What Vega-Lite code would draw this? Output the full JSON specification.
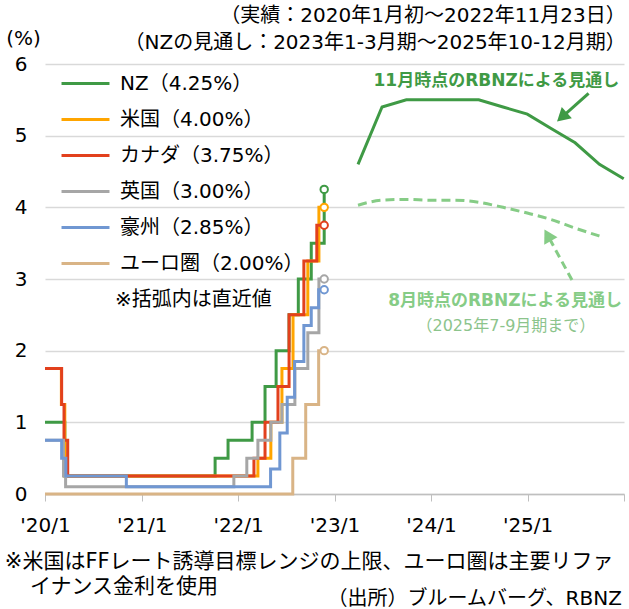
{
  "$schema": "https://vega.github.io/schema/vega-lite/v6.json",
  "width": 579,
  "height": 430,
  "autosize": {"type": "none"},
  "padding": {"left": 45, "top": 64, "right": 5, "bottom": 115},
  "background": "white",
  "config": {"font": "DejaVu Sans, Noto Sans CJK JP", "view": {"stroke": null}},
  "title": {
    "text": ["（実績：2020年1月初～2022年11月23日）", "（NZの見通し：2023年1-3月期～2025年10-12月期）"],
    "anchor": "end",
    "fontSize": 20,
    "fontWeight": "normal",
    "lineHeight": 27,
    "offset": 8,
    "dy": 33,
    "dx": -4,
    "color": "#000000"
  },
  "datasets": {
    "actual": [
      {"s": "ユーロ圏（2.00%）", "d": "2020-01-01", "v": 0.0},
      {"s": "ユーロ圏（2.00%）", "d": "2022-07-27", "v": 0.5},
      {"s": "ユーロ圏（2.00%）", "d": "2022-09-14", "v": 1.25},
      {"s": "ユーロ圏（2.00%）", "d": "2022-11-02", "v": 2.0},
      {"s": "ユーロ圏（2.00%）", "d": "2022-11-23", "v": 2.0},
      {"s": "英国（3.00%）", "d": "2020-01-01", "v": 0.75},
      {"s": "英国（3.00%）", "d": "2020-03-11", "v": 0.25},
      {"s": "英国（3.00%）", "d": "2020-03-19", "v": 0.1},
      {"s": "英国（3.00%）", "d": "2021-12-16", "v": 0.25},
      {"s": "英国（3.00%）", "d": "2022-02-03", "v": 0.5},
      {"s": "英国（3.00%）", "d": "2022-03-17", "v": 0.75},
      {"s": "英国（3.00%）", "d": "2022-05-05", "v": 1.0},
      {"s": "英国（3.00%）", "d": "2022-06-16", "v": 1.25},
      {"s": "英国（3.00%）", "d": "2022-08-04", "v": 1.75},
      {"s": "英国（3.00%）", "d": "2022-09-22", "v": 2.25},
      {"s": "英国（3.00%）", "d": "2022-11-03", "v": 3.0},
      {"s": "英国（3.00%）", "d": "2022-11-23", "v": 3.0},
      {"s": "NZ（4.25%）", "d": "2020-01-01", "v": 1.0},
      {"s": "NZ（4.25%）", "d": "2020-03-16", "v": 0.25},
      {"s": "NZ（4.25%）", "d": "2021-10-06", "v": 0.5},
      {"s": "NZ（4.25%）", "d": "2021-11-24", "v": 0.75},
      {"s": "NZ（4.25%）", "d": "2022-02-23", "v": 1.0},
      {"s": "NZ（4.25%）", "d": "2022-04-13", "v": 1.5},
      {"s": "NZ（4.25%）", "d": "2022-05-25", "v": 2.0},
      {"s": "NZ（4.25%）", "d": "2022-07-13", "v": 2.5},
      {"s": "NZ（4.25%）", "d": "2022-08-17", "v": 3.0},
      {"s": "NZ（4.25%）", "d": "2022-10-05", "v": 3.5},
      {"s": "NZ（4.25%）", "d": "2022-11-23", "v": 4.25},
      {"s": "米国（4.00%）", "d": "2020-01-01", "v": 1.75},
      {"s": "米国（4.00%）", "d": "2020-03-03", "v": 1.25},
      {"s": "米国（4.00%）", "d": "2020-03-16", "v": 0.25},
      {"s": "米国（4.00%）", "d": "2022-03-17", "v": 0.5},
      {"s": "米国（4.00%）", "d": "2022-05-05", "v": 1.0},
      {"s": "米国（4.00%）", "d": "2022-06-16", "v": 1.75},
      {"s": "米国（4.00%）", "d": "2022-07-28", "v": 2.5},
      {"s": "米国（4.00%）", "d": "2022-09-22", "v": 3.25},
      {"s": "米国（4.00%）", "d": "2022-11-03", "v": 4.0},
      {"s": "米国（4.00%）", "d": "2022-11-23", "v": 4.0},
      {"s": "カナダ（3.75%）", "d": "2020-01-01", "v": 1.75},
      {"s": "カナダ（3.75%）", "d": "2020-03-04", "v": 1.25},
      {"s": "カナダ（3.75%）", "d": "2020-03-13", "v": 0.75},
      {"s": "カナダ（3.75%）", "d": "2020-03-27", "v": 0.25},
      {"s": "カナダ（3.75%）", "d": "2022-03-02", "v": 0.5},
      {"s": "カナダ（3.75%）", "d": "2022-04-13", "v": 1.0},
      {"s": "カナダ（3.75%）", "d": "2022-06-01", "v": 1.5},
      {"s": "カナダ（3.75%）", "d": "2022-07-13", "v": 2.5},
      {"s": "カナダ（3.75%）", "d": "2022-09-07", "v": 3.25},
      {"s": "カナダ（3.75%）", "d": "2022-10-26", "v": 3.75},
      {"s": "カナダ（3.75%）", "d": "2022-11-23", "v": 3.75},
      {"s": "豪州（2.85%）", "d": "2020-01-01", "v": 0.75},
      {"s": "豪州（2.85%）", "d": "2020-03-04", "v": 0.5},
      {"s": "豪州（2.85%）", "d": "2020-03-20", "v": 0.25},
      {"s": "豪州（2.85%）", "d": "2020-11-04", "v": 0.1},
      {"s": "豪州（2.85%）", "d": "2022-05-04", "v": 0.35},
      {"s": "豪州（2.85%）", "d": "2022-06-08", "v": 0.85},
      {"s": "豪州（2.85%）", "d": "2022-07-06", "v": 1.35},
      {"s": "豪州（2.85%）", "d": "2022-08-03", "v": 1.85},
      {"s": "豪州（2.85%）", "d": "2022-09-07", "v": 2.35},
      {"s": "豪州（2.85%）", "d": "2022-10-05", "v": 2.6},
      {"s": "豪州（2.85%）", "d": "2022-11-02", "v": 2.85},
      {"s": "豪州（2.85%）", "d": "2022-11-23", "v": 2.85}
    ],
    "latest": [
      {"s": "NZ（4.25%）", "d": "2022-11-23", "v": 4.25},
      {"s": "米国（4.00%）", "d": "2022-11-23", "v": 4.0},
      {"s": "カナダ（3.75%）", "d": "2022-11-23", "v": 3.75},
      {"s": "英国（3.00%）", "d": "2022-11-23", "v": 3.0},
      {"s": "豪州（2.85%）", "d": "2022-11-23", "v": 2.85},
      {"s": "ユーロ圏（2.00%）", "d": "2022-11-23", "v": 2.0}
    ],
    "nov": [
      {"d": "2023-03-31", "v": 4.6},
      {"d": "2023-06-30", "v": 5.4},
      {"d": "2023-09-30", "v": 5.5},
      {"d": "2023-12-31", "v": 5.5},
      {"d": "2024-03-31", "v": 5.5},
      {"d": "2024-06-30", "v": 5.5},
      {"d": "2024-09-30", "v": 5.4},
      {"d": "2024-12-31", "v": 5.3},
      {"d": "2025-03-31", "v": 5.1},
      {"d": "2025-06-30", "v": 4.9},
      {"d": "2025-09-30", "v": 4.6},
      {"d": "2025-12-31", "v": 4.4}
    ],
    "aug": [
      {"d": "2023-03-31", "v": 4.03},
      {"d": "2023-06-30", "v": 4.1},
      {"d": "2023-09-30", "v": 4.11},
      {"d": "2023-12-31", "v": 4.1},
      {"d": "2024-03-31", "v": 4.1},
      {"d": "2024-06-30", "v": 4.07},
      {"d": "2024-09-30", "v": 4.0},
      {"d": "2024-12-31", "v": 3.92},
      {"d": "2025-03-31", "v": 3.83},
      {"d": "2025-06-30", "v": 3.71},
      {"d": "2025-09-30", "v": 3.6}
    ]
  },
  "encoding": {
    "x": {
      "field": "d",
      "type": "temporal",
      "scale": {
        "type": "utc",
        "domain": [{"year": 2020, "month": 1, "date": 1, "utc": true}, {"year": 2026, "month": 1, "date": 1, "utc": true}]
      },
      "axis": {
        "values": [
          {"year": 2020, "month": 1, "date": 1, "utc": true},
          {"year": 2021, "month": 1, "date": 1, "utc": true},
          {"year": 2022, "month": 1, "date": 1, "utc": true},
          {"year": 2023, "month": 1, "date": 1, "utc": true},
          {"year": 2024, "month": 1, "date": 1, "utc": true},
          {"year": 2025, "month": 1, "date": 1, "utc": true},
          {"year": 2026, "month": 1, "date": 1, "utc": true}
        ],
        "labelExpr": "(utcFormat(datum.value,'%Y')=='2026') ? '' : \"'\" + utcFormat(datum.value,'%y') + '/1'",
        "grid": false,
        "domainColor": "#bfbfbf",
        "domainWidth": 1.3,
        "tickColor": "#bfbfbf",
        "tickSize": 7,
        "labelFontSize": 20,
        "labelPadding": 14,
        "labelColor": "#000000",
        "labelFlush": false,
        "labelOverlap": false,
        "title": null
      }
    },
    "y": {
      "field": "v",
      "type": "quantitative",
      "scale": {"domain": [0, 6], "nice": false},
      "axis": {
        "values": [0, 1, 2, 3, 4, 5, 6],
        "grid": true,
        "gridColor": "#d9d9d9",
        "gridWidth": 1.3,
        "domain": false,
        "ticks": false,
        "labelFontSize": 20,
        "labelPadding": 18,
        "labelColor": "#000000",
        "title": "(%)",
        "titleAngle": 0,
        "titleX": -22,
        "titleY": -26,
        "titleAlign": "center",
        "titleBaseline": "middle",
        "titleFontSize": 20,
        "titleFontWeight": "normal",
        "titleColor": "#000000"
      }
    }
  },
  "layer": [
    {
      "data": {"name": "actual"},
      "transform": [{"filter": "datum.s == 'ユーロ圏（2.00%）'"}],
      "mark": {"type": "line", "interpolate": "step-after", "strokeWidth": 3},
      "encoding": {
        "color": {
          "field": "s",
          "type": "nominal",
          "scale": {
            "domain": ["NZ（4.25%）", "米国（4.00%）", "カナダ（3.75%）", "英国（3.00%）", "豪州（2.85%）", "ユーロ圏（2.00%）"],
            "range": ["#3f9a45", "#ffa500", "#e2401d", "#a6a6a6", "#7097d2", "#d9b486"]
          },
          "legend": {
            "orient": "none",
            "legendX": 15,
            "legendY": -6,
            "title": null,
            "symbolType": "stroke",
            "symbolStrokeWidth": 3,
            "symbolSize": 2300,
            "labelFontSize": 20,
            "labelColor": "#000000",
            "labelOffset": 9,
            "rowPadding": -12,
            "labelLimit": 300,
            "values": ["NZ（4.25%）", "米国（4.00%）", "カナダ（3.75%）", "英国（3.00%）", "豪州（2.85%）", "ユーロ圏（2.00%）"]
          }
        }
      }
    },
    {
      "data": {"name": "actual"},
      "transform": [{"filter": "datum.s == 'NZ（4.25%）'"}],
      "mark": {"type": "line", "interpolate": "step-after", "strokeWidth": 3},
      "encoding": {"color": {"field": "s", "type": "nominal"}}
    },
    {
      "data": {"name": "actual"},
      "transform": [{"filter": "datum.s == '米国（4.00%）'"}],
      "mark": {"type": "line", "interpolate": "step-after", "strokeWidth": 3},
      "encoding": {"color": {"field": "s", "type": "nominal"}}
    },
    {
      "data": {"name": "actual"},
      "transform": [{"filter": "datum.s == 'カナダ（3.75%）'"}],
      "mark": {"type": "line", "interpolate": "step-after", "strokeWidth": 3},
      "encoding": {"color": {"field": "s", "type": "nominal"}}
    },
    {
      "data": {"name": "actual"},
      "transform": [{"filter": "datum.s == '英国（3.00%）'"}],
      "mark": {"type": "line", "interpolate": "step-after", "strokeWidth": 3},
      "encoding": {"color": {"field": "s", "type": "nominal"}}
    },
    {
      "data": {"name": "actual"},
      "transform": [{"filter": "datum.s == '豪州（2.85%）'"}],
      "mark": {"type": "line", "interpolate": "step-after", "strokeWidth": 3},
      "encoding": {"color": {"field": "s", "type": "nominal"}}
    },
    {
      "data": {"name": "latest"},
      "mark": {"type": "point", "fill": "white", "filled": false, "size": 55, "strokeWidth": 2, "opacity": 1},
      "encoding": {
        "stroke": {
          "field": "s",
          "type": "nominal",
          "scale": {
            "domain": ["NZ（4.25%）", "米国（4.00%）", "カナダ（3.75%）", "英国（3.00%）", "豪州（2.85%）", "ユーロ圏（2.00%）"],
            "range": ["#3f9a45", "#ffa500", "#e2401d", "#a6a6a6", "#7097d2", "#d9b486"]
          },
          "legend": null
        }
      }
    },
    {
      "data": {"name": "nov"},
      "mark": {"type": "line", "strokeWidth": 3, "color": "#3f9a45"}
    },
    {
      "data": {"name": "aug"},
      "mark": {"type": "line", "strokeWidth": 3, "color": "#86cc86", "interpolate": "monotone", "strokeDash": [9, 5]}
    },
    {
      "data": {"values": [{"d": "2025-08-20", "v": 5.59, "d2": "2025-05-11", "v2": 5.26}]},
      "mark": {"type": "rule", "strokeWidth": 3, "color": "#3f9a45"},
      "encoding": {"x2": {"field": "d2"}, "y2": {"field": "v2"}}
    },
    {
      "data": {"values": [{"d": "2025-05-11", "v": 5.26}]},
      "mark": {"type": "point", "shape": "triangle-up", "angle": 228, "size": 230, "filled": true, "color": "#3f9a45", "opacity": 1}
    },
    {
      "data": {"values": [{"d": "2025-06-18", "v": 2.985, "d2": "2025-03-18", "v2": 3.61}]},
      "mark": {"type": "rule", "strokeWidth": 3, "color": "#86cc86", "strokeDash": [8, 5]},
      "encoding": {"x2": {"field": "d2"}, "y2": {"field": "v2"}}
    },
    {
      "data": {"values": [{"d": "2025-03-18", "v": 3.61}]},
      "mark": {"type": "point", "shape": "triangle-up", "angle": 331, "size": 230, "filled": true, "color": "#86cc86", "opacity": 1}
    },
    {
      "data": {"values": [{"d": "2024-09-05", "v": 5.76, "t": "11月時点のRBNZによる見通し"}]},
      "mark": {"type": "text", "fontSize": 17, "fontWeight": "bold", "color": "#3f9a45", "align": "center", "baseline": "middle"},
      "encoding": {"text": {"field": "t", "type": "nominal"}}
    },
    {
      "data": {"values": [{"d": "2024-10-08", "v": 2.695, "t": "8月時点のRBNZによる見通し"}]},
      "mark": {"type": "text", "fontSize": 17, "fontWeight": "bold", "color": "#86cc86", "align": "center", "baseline": "middle"},
      "encoding": {"text": {"field": "t", "type": "nominal"}}
    },
    {
      "data": {"values": [{"d": "2024-10-11", "v": 2.34, "t": "（2025年7-9月期まで）"}]},
      "mark": {"type": "text", "fontSize": 16, "color": "#8cc48c", "align": "center", "baseline": "middle"},
      "encoding": {"text": {"field": "t", "type": "nominal"}}
    },
    {
      "data": {"values": [{"d": "2020-09-22", "v": 2.705, "t": "※括弧内は直近値"}]},
      "mark": {"type": "text", "fontSize": 20, "color": "#000000", "align": "left", "baseline": "middle"},
      "encoding": {"text": {"field": "t", "type": "nominal"}}
    },
    {
      "data": {"values": [
        {"d": "2019-08-02", "v": -0.948, "t": "※米国はFFレート誘導目標レンジの上限、ユーロ圏は主要リファ"},
        {"d": "2019-11-05", "v": -1.297, "t": "イナンス金利を使用"}
      ]},
      "mark": {"type": "text", "fontSize": 21, "color": "#000000", "align": "left", "baseline": "middle"},
      "encoding": {"text": {"field": "t", "type": "nominal"}}
    },
    {
      "data": {"values": [{"d": "2025-12-24", "v": -1.46, "t": "（出所）ブルームバーグ、RBNZ"}]},
      "mark": {"type": "text", "fontSize": 20, "color": "#000000", "align": "right", "baseline": "middle"},
      "encoding": {"text": {"field": "t", "type": "nominal"}}
    }
  ]
}
